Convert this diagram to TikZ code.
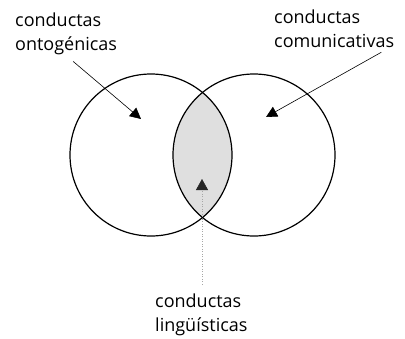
\documentclass[tikz,border=0pt]{standalone}
\usepackage{fontspec}
\setmainfont{Open Sans}
\usetikzlibrary{arrows.meta}

\tikzset{
  label text/.style={align=left, inner sep=0pt, font=\fontsize{18}{24}\selectfont},
  set ring/.style={circle, draw, line width=1.2pt, minimum size=162pt, inner sep=0pt},
  pointer/.style={line width=0.6pt, -{Triangle[length=11pt,width=11pt]}},
  faint pointer/.style={pointer, draw=gray!70, line width=0.5pt, dotted, -{Triangle[length=11pt,width=12pt,color=black!85]}}
}

\begin{document}
\begin{tikzpicture}[x=1pt,y=-1pt]
  \useasboundingbox (0,0) rectangle (405,338);

  % shaded overlap
  \begin{scope}
    \clip (151,155) circle (81);
    \fill[gray!25] (254,155) circle (81);
  \end{scope}

  \node[set ring] (onto) at (151,155) {};
  \node[set ring] (comu) at (254,155) {};

  \node[label text, anchor=north west] (ontT) at (15,13) {conductas\\ontogénicas};
  \node[label text, anchor=north west] (comT) at (274,10) {conductas\\comunicativas};
  \node[label text, anchor=north west] (linT) at (155,294) {conductas\\lingüísticas};

  \coordinate (ontTip) at (141,119);
  \coordinate (comTip) at (266,117);
  \coordinate (linTip) at (202,179);

  \draw[pointer] ([xshift=7pt,yshift=-6pt]ontT.south) -- (ontTip);
  \draw[pointer] ([xshift=-13pt,yshift=-4pt]comT.south east) -- (comTip);
  \draw[faint pointer] ([yshift=10pt]linT.north -| linTip) -- (linTip);
\end{tikzpicture}
\end{document}
